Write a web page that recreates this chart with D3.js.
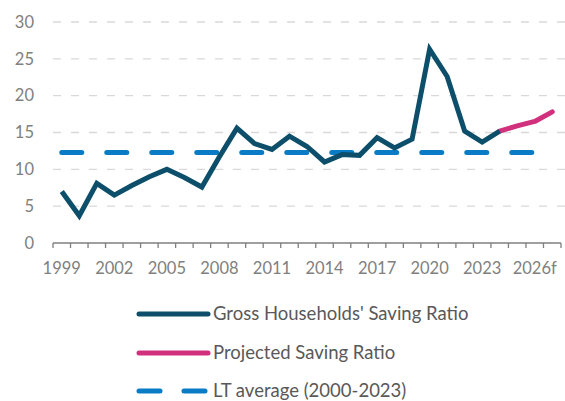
<!DOCTYPE html>
<html>
<head>
<meta charset="utf-8">
<script src="https://cdn.jsdelivr.net/npm/d3@7"></script>
<style>
  body { margin: 0; padding: 0; background: #fff; }
  text { font-family: Lato, "Open Sans", sans-serif; }
</style>
</head>
<body>
<script>
const years = ["1999","2000","2001","2002","2003","2004","2005","2006","2007","2008",
  "2009","2010","2011","2012","2013","2014","2015","2016","2017","2018",
  "2019","2020","2021","2022","2023","2024f","2025f","2026f","2027f"]

// tick labels shown every third year
const tickLabels = ["1999","2002","2005","2008","2011","2014","2017","2020","2023","2026f"]

const savingRatio = [7.0, 3.7, 8.1, 6.5, 7.8, 9.0, 10.0, 8.9, 7.6, 11.7,
  15.6, 13.5, 12.7, 14.5, 13.1, 11.0, 12.0, 11.9, 14.3, 12.9,
  14.1, 26.3, 22.6, 15.2, 13.7, 15.2]

const projYears = ["2024f","2025f","2026f","2027f"]
const projected = [15.2, 15.9, 16.5, 17.8]

const ltAverage = 12.3
const yTicks = [0, 5, 10, 15, 20, 25, 30]

const width = 565, height = 401
const margin = {top: 22, right: 4, bottom: 158, left: 53}

const svg = d3.select("body").append("svg")
  .attr("width", width)
  .attr("height", height)

const x = d3.scaleBand()
  .domain(years)
  .range([margin.left, width - margin.right])

const y = d3.scaleLinear()
  .domain([0, 30])
  .range([height - margin.bottom, margin.top])

const cx = d => x(d) + x.bandwidth() / 2

// gridlines
svg.append("g")
  .selectAll("line")
  .data(yTicks.filter(d => d > 0))
  .join("line")
  .attr("x1", margin.left)
  .attr("x2", width)
  .attr("y1", d => y(d))
  .attr("y2", d => y(d))
  .attr("stroke", "#d9d9d9")
  .attr("stroke-width", 1.3)
  .attr("stroke-dasharray", "8,10")

// y labels
svg.append("g")
  .selectAll("text")
  .data(yTicks)
  .join("text")
  .attr("x", 34)
  .attr("y", d => y(d))
  .attr("dy", "0.35em")
  .attr("text-anchor", "end")
  .attr("fill", "#808080")
  .attr("font-size", 16.5)
  .text(d => d)

// x axis
const xAxis = svg.append("g")
  .attr("transform", `translate(0,${y(0)})`)

xAxis.append("line")
  .attr("x1", margin.left)
  .attr("x2", width - margin.right)
  .attr("stroke", "#7f7f7f")
  .attr("stroke-width", 1.5)

const tickPos = years.map(d => x(d)).concat([x(years[years.length - 1]) + x.bandwidth()])

xAxis.selectAll("line.tick")
  .data(tickPos)
  .join("line")
  .attr("class", "tick")
  .attr("x1", d => d)
  .attr("x2", d => d)
  .attr("y1", 0)
  .attr("y2", 5)
  .attr("stroke", "#7f7f7f")
  .attr("stroke-width", 1.3)

xAxis.selectAll("text")
  .data(tickLabels)
  .join("text")
  .attr("x", (d, i) => cx(years[i * 3]))
  .attr("y", 31)
  .attr("text-anchor", "middle")
  .attr("fill", "#808080")
  .attr("font-size", 16.5)
  .text(d => d)

// long term average
svg.append("line")
  .attr("x1", cx(years[0]))
  .attr("x2", cx(years[years.length - 1]))
  .attr("y1", y(ltAverage))
  .attr("y2", y(ltAverage))
  .attr("stroke", "#0a7cc6")
  .attr("stroke-width", 5)
  .attr("stroke-linecap", "round")
  .attr("stroke-dasharray", "20,25")

const line = d3.line()
  .x(d => cx(d[0]))
  .y(d => y(d[1]))

// projected
svg.append("path")
  .datum(d3.zip(projYears, projected))
  .attr("d", line)
  .attr("fill", "none")
  .attr("stroke", "#d1307d")
  .attr("stroke-width", 5)
  .attr("stroke-linecap", "round")
  .attr("stroke-linejoin", "round")

// historical
svg.append("path")
  .datum(d3.zip(years.slice(0, savingRatio.length), savingRatio))
  .attr("d", line)
  .attr("fill", "none")
  .attr("stroke", "#0d4f6b")
  .attr("stroke-width", 5)
  .attr("stroke-linejoin", "miter")

// legend
const legendItems = [
  {label: "Gross Households' Saving Ratio", color: "#0d4f6b", dash: null},
  {label: "Projected Saving Ratio", color: "#d1307d", dash: null},
  {label: "LT average (2000-2023)", color: "#0a7cc6", dash: "21,24"}
]
const legendY = [314, 353, 391]

const legend = svg.append("g")
  .selectAll("g")
  .data(legendItems)
  .join("g")
  .attr("transform", (d, i) => `translate(0,${legendY[i]})`)

legend.append("line")
  .attr("x1", 139)
  .attr("x2", 208)
  .attr("stroke", d => d.color)
  .attr("stroke-width", 5)
  .attr("stroke-linecap", "round")
  .attr("stroke-dasharray", d => d.dash)

legend.append("text")
  .attr("x", 213)
  .attr("dy", "0.35em")
  .attr("fill", "#595959")
  .attr("font-size", 18.5)
  .text(d => d.label)
</script>
</body>
</html>
